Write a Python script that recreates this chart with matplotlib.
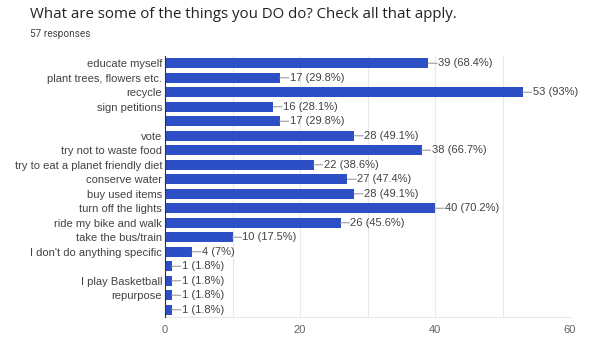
import matplotlib

matplotlib.use("Agg")
import matplotlib.pyplot as plt  # noqa: E402
import numpy as np  # noqa: E402

title = "What are some of the things you DO do? Check all that apply."
subtitle = "57 responses"
total = 57
labels = [
    "educate myself",
    "plant trees, flowers etc.",
    "recycle",
    "sign petitions",
    "",
    "vote",
    "try not to waste food",
    "try to eat a planet friendly diet",
    "conserve water",
    "buy used items",
    "turn off the lights",
    "ride my bike and walk",
    "take the bus/train",
    "I don't do anything specific",
    "",
    "I play Basketball",
    "repurpose",
    "",
]
counts = [39, 17, 53, 16, 17, 28, 38, 22, 27, 28, 40, 26, 10, 4, 1, 1, 1, 1]
xticks = [0, 20, 40, 60]
grid_x = [10, 20, 30, 40, 50, 60]

BLUE = "#2d4fc6"
TEXT = "#424242"

plt.rcParams["font.family"] = ["Liberation Sans", "DejaVu Sans"]

fig = plt.figure(figsize=(6.01, 3.61), dpi=100)
ax = fig.add_axes([165 / 601, 1 - 317 / 361, 405 / 601, (317 - 56) / 361])

y = np.arange(len(labels))
ax.barh(y, counts, height=0.66, color=BLUE, zorder=3)
ax.set_ylim(len(labels) - 0.5, -0.5)
ax.set_xlim(0, 60)

for gx in grid_x:
    ax.axvline(gx, color="#e8e8e8", linewidth=0.8, zorder=1)

ax.set_yticks(y)
ax.set_yticklabels(labels, fontsize=8, color=TEXT)
ax.set_xticks(xticks)
ax.set_xticklabels([str(t) for t in xticks], fontsize=8, color="#5f6368")
ax.tick_params(axis="both", length=0)
ax.tick_params(axis="y", pad=2)
ax.tick_params(axis="x", pad=6)

for s in ["top", "right"]:
    ax.spines[s].set_visible(False)
ax.spines["bottom"].set_color("#e8e8e8")
ax.spines["left"].set_color("#333333")
ax.spines["left"].set_zorder(4)

for yi, c in zip(y, counts):
    pct = f"{100 * c / total:.1f}".rstrip("0").rstrip(".")
    ax.annotate(
        "",
        xy=(c, yi),
        xytext=(9, 0),
        textcoords="offset pixels",
        arrowprops=dict(arrowstyle="-", color="#9e9e9e", linewidth=0.8,
                        shrinkA=0, shrinkB=0),
        zorder=4,
    )
    ax.annotate(
        f"{c} ({pct}%)",
        xy=(c, yi),
        xytext=(10, 0),
        textcoords="offset pixels",
        va="center",
        ha="left",
        fontsize=8,
        color=TEXT,
        zorder=5,
    )

fig.text(30 / 601, 1 - 15 / 361, title, fontsize=10.8, color="#202124",
         va="center", ha="left", family=["Open Sans", "DejaVu Sans"])
fig.text(30 / 601, 1 - 34 / 361, subtitle, fontsize=7.2, color="#444444",
         va="center", ha="left", family=["Roboto", "DejaVu Sans"])

fig.savefig("out.png", dpi=100)
